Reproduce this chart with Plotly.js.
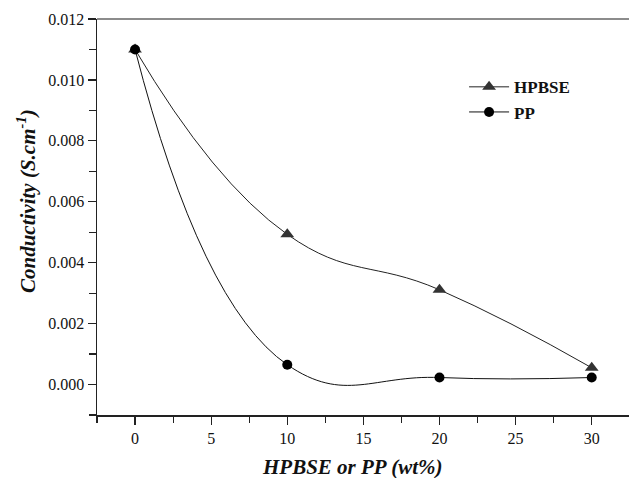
<!DOCTYPE html>
<html>
<head>
<meta charset="utf-8">
<script src="https://cdn.plot.ly/plotly-3.0.1.min.js"></script>
<style>html,body{margin:0;padding:0;background:#fff;}#chart{width:629px;height:478px;}</style>
</head>
<body>
<div id="chart"></div>
<script>
var loading = [0, 10, 20, 30];
var hpbse = [0.0110, 0.00493, 0.00311, 0.00055];
var pp = [0.0110, 0.00065, 0.00023, 0.00023];
var xTicks = [0, 5, 10, 15, 20, 25, 30];
var yTicks = [0.000, 0.002, 0.004, 0.006, 0.008, 0.010, 0.012];
var yTickText = ['0.000', '0.002', '0.004', '0.006', '0.008', '0.010', '0.012'];

var serif = 'Liberation Serif, Times New Roman, serif';

var traces = [
  {x: loading, y: hpbse, name: 'HPBSE', type: 'scatter', mode: 'lines+markers',
   line: {shape: 'spline', smoothing: 1.3, color: '#222', width: 1},
   marker: {symbol: 'triangle-up', size: 12, color: '#333'}},
  {x: loading, y: pp, name: 'PP', type: 'scatter', mode: 'lines+markers',
   line: {shape: 'spline', smoothing: 1.3, color: '#111', width: 1},
   marker: {symbol: 'circle', size: 10, color: '#000'}}
];

var layout = {
  width: 629, height: 478,
  margin: {l: 97, r: 0, t: 19, b: 63},
  paper_bgcolor: '#fff', plot_bgcolor: '#fff',
  showlegend: true,
  legend: {x: 0.69, y: 0.873, xanchor: 'left', yanchor: 'top',
           font: {family: serif, size: 17, color: '#111', weight: 'bold'},
           bgcolor: 'rgba(0,0,0,0)', itemwidth: 40, tracegroupgap: 0},
  xaxis: {range: [-2.5, 32.45], tickvals: xTicks, ticks: 'outside', ticklen: 8, tickwidth: 1.2,
          tickcolor: '#222', showline: true, linecolor: '#222', linewidth: 1.5, mirror: false,
          showgrid: false, zeroline: false,
          tickfont: {family: serif, size: 16, color: '#111'},
          minor: {dtick: 2.5, tick0: 0, ticks: 'outside', ticklen: 6, tickcolor: '#222', showgrid: false}},
  yaxis: {range: [-0.001, 0.012], tickvals: yTicks, ticktext: yTickText, ticks: 'outside', ticklen: 8, tickwidth: 1.2,
          tickcolor: '#222', showline: true, linecolor: '#222', linewidth: 1.5,
          showgrid: false, zeroline: false,
          tickfont: {family: serif, size: 16, color: '#111'},
          minor: {dtick: 0.001, tick0: 0, ticks: 'outside', ticklen: 7, tickcolor: '#222', showgrid: false}},
  shapes: [
    {type: 'line', xref: 'paper', yref: 'paper', x0: 0, x1: 1, y0: 1, y1: 1,
     line: {color: '#666', width: 1.5}}
  ],
  annotations: [
    {text: '<b><i>HPBSE or PP (wt%)</i></b>', xref: 'paper', yref: 'paper',
     x: (352 - 97) / 532, y: -(467 - 415) / 396, xanchor: 'center', yanchor: 'middle',
     showarrow: false, font: {family: serif, size: 21, color: '#111'}},
    {text: '<b><i>Conductivity (S.cm<sup>-1</sup>)</i></b>', xref: 'paper', yref: 'paper',
     x: -(97 - 27) / 532, y: (415 - 201) / 396, xanchor: 'center', yanchor: 'middle', textangle: -90,
     showarrow: false, font: {family: serif, size: 21, color: '#111'}}
  ]
};

Plotly.newPlot('chart', traces, layout, {displayModeBar: false, staticPlot: true});
</script>
</body>
</html>
